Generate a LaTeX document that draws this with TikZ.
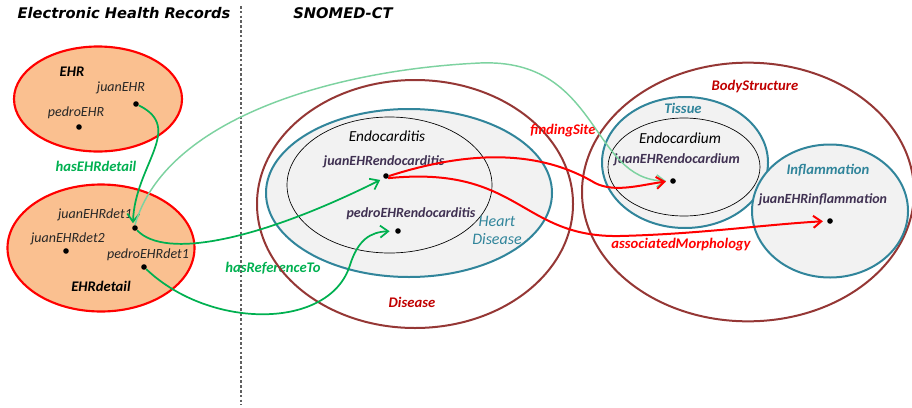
\documentclass[tikz,border=0pt]{standalone}
\usepackage{fontspec}
\setmainfont{Carlito}
\newfontfamily\titlefont{DejaVu Sans}
\usetikzlibrary{shapes.geometric,arrows.meta}

\definecolor{peach}{RGB}{250,192,144}
\definecolor{setred}{RGB}{255,0,0}
\definecolor{brownred}{RGB}{149,55,53}
\definecolor{darkred}{RGB}{192,0,0}
\definecolor{teal}{RGB}{49,133,155}
\definecolor{lightgray}{RGB}{242,242,242}
\definecolor{relgreen}{RGB}{0,176,80}
\definecolor{palegreen}{RGB}{125,210,160}
\definecolor{instpurple}{RGB}{64,49,82}

\tikzset{
  ehrset/.style={ellipse, draw=setred, fill=peach, line width=1.6pt, inner sep=0pt},
  topset/.style={ellipse, draw=brownred, line width=1.5pt, inner sep=0pt},
  subset/.style={ellipse, draw=teal, fill=lightgray, line width=1.5pt, inner sep=0pt},
  innerset/.style={ellipse, draw=black, line width=0.5pt, inner sep=0pt},
  dot/.style={circle, fill=black, inner sep=0pt, minimum size=4.2pt},
  inst/.style={font=\fontsize{10.5}{12}\selectfont\itshape, text=black!85},
  snoinst/.style={font=\fontsize{10.5}{12}\selectfont\bfseries\itshape, text=instpurple},
  setlabel/.style={font=\fontsize{11}{13}\selectfont\bfseries\itshape},
  rel/.style={font=\fontsize{11}{13}\selectfont\bfseries\itshape},
  title/.style={font=\titlefont\fontsize{11}{13}\selectfont\bfseries\itshape},
  greenarrow/.style={draw=relgreen, line width=1.3pt, -{Straight Barb[length=6pt,width=9pt]}},
  palearrow/.style={draw=palegreen, line width=1.1pt, -{Straight Barb[length=6pt,width=9pt]}},
  redarrow/.style={draw=setred, line width=1.5pt, -{Straight Barb[length=6pt,width=9pt]}},
}

\begin{document}
\begin{tikzpicture}[x=0.75pt,y=0.75pt,yscale=-1]
\useasboundingbox (0,0) rectangle (912,407);

% Titles
\node[title] (ehrtitle) at (124,13) {Electronic Health Records};
\node[title] (snotitle) at (343,13) {SNOMED-CT};
\draw[gray!75!black, line width=2.2pt, dash pattern=on 2pt off 1.6pt] (241,6) -- (241,405);

% EHR side
\node[ehrset, minimum width=126pt, minimum height=78.75pt] (EHR) at (98,99) {};
\node[ehrset, minimum width=140.25pt, minimum height=95.25pt] (EHRdetail) at (101,248) {};

\node[setlabel] (EHRlbl) at (72,72) {EHR};
\node[inst] (juanEHRlbl) at (121,88) {juanEHR};
\node[inst] (pedroEHRlbl) at (76,113) {pedroEHR};
\node[dot] (juanEHR) at (136,104) {};
\node[dot] (pedroEHR) at (79,127) {};

\node[inst] (juanEHRdet1lbl) at (95,215) {juanEHRdet1};
\node[inst] (juanEHRdet2lbl) at (68,239) {juanEHRdet2};
\node[inst] (pedroEHRdet1lbl) at (148,255) {pedroEHRdet1};
\node[setlabel] (EHRdetaillbl) at (101,286) {EHRdetail};
\node[dot] (juanEHRdet1) at (135,228) {};
\node[dot] (juanEHRdet2) at (66,251) {};
\node[dot] (pedroEHRdet1) at (144,267) {};

\node[rel, text=relgreen] (hasEHRdetail) at (96,166) {hasEHRdetail};
\node[rel, text=relgreen] (hasReferenceTo) at (273,268) {hasReferenceTo};

% Disease
\node[topset, minimum width=237pt, minimum height=186pt] (Disease) at (415,204) {};
\node[subset, minimum width=214.5pt, minimum height=126pt] (HeartDisease) at (409,193) {};
\node[innerset, minimum width=153.75pt, minimum height=102pt] (Endocarditis) at (389.5,185) {};

\node[font=\fontsize{11.5}{13}\selectfont\itshape] (Endocarditislbl) at (387,136) {Endocarditis};
\node[snoinst] (juanEHRendocarditislbl) at (384,162) {juanEHRendocarditis};
\node[snoinst] (pedroEHRendocarditislbl) at (411,214) {pedroEHRendocarditis};
\node[dot] (juanEHRendocarditis) at (386,176) {};
\node[dot] (pedroEHRendocarditis) at (398,231) {};
\node[font=\fontsize{12}{13.5}\selectfont\itshape, text=teal, align=center] (HeartDiseaselbl) at (497,230) {Heart\\Disease};
\node[setlabel, text=darkred] (Diseaselbl) at (412,302) {Disease};

% BodyStructure
\node[topset, minimum width=249pt, minimum height=194pt] (BodyStructure) at (748,192) {};
\node[subset, minimum width=124.5pt, minimum height=98.25pt] (Tissue) at (685,162.5) {};
\node[innerset, minimum width=114pt, minimum height=73.5pt] (Endocardium) at (684,167) {};
\node[subset, minimum width=117pt, minimum height=99.75pt] (Inflammation) at (830,211) {};

\node[setlabel, text=darkred] (BodyStructurelbl) at (755,87) {BodyStructure};
\node[setlabel, text=teal] (Tissuelbl) at (683,108) {Tissue};
\node[font=\fontsize{11.5}{13}\selectfont\itshape] (Endocardiumlbl) at (680,138) {Endocardium};
\node[snoinst] (juanEHRendocardiumlbl) at (677,160) {juanEHRendocardium};
\node[dot] (juanEHRendocardium) at (673,181) {};
\node[setlabel, text=teal] (Inflammationlbl) at (828,170) {Inflammation};
\node[snoinst] (juanEHRinflammationlbl) at (823,200) {juanEHRinflammation};
\node[dot] (juanEHRinflammation) at (830,221) {};

\node[rel, text=setred] (findingSite) at (563,131) {findingSite};
\node[rel, text=setred] (associatedMorphology) at (681,245) {associatedMorphology};

% Relations
\draw[greenarrow, shorten >=2pt] (juanEHR) .. controls (185,128) and (135,165) .. (juanEHRdet1.north west);
\draw[palearrow, shorten >=3pt] (juanEHRdet1.north) .. controls (165,120) and (330,70) .. (480,63) .. controls (600,58) and (590,180) .. (juanEHRendocardium.west);
\draw[greenarrow, shorten >=3pt] (juanEHRdet1) .. controls (165,260) and (260,240) .. (juanEHRendocarditis.south west);
\draw[greenarrow, shorten >=4pt] (pedroEHRdet1) .. controls (210,330) and (330,330) .. (350,265) .. controls (358,240) and (370,232) .. (pedroEHRendocarditis.west);
\draw[redarrow, shorten >=3pt] (juanEHRendocarditis.east) .. controls (470,150) and (540,150) .. (595,183) .. controls (615,193) and (640,185) .. (juanEHRendocardium.west);
\draw[redarrow, shorten >=3pt] (juanEHRendocarditis.south east) .. controls (520,165) and (520,238) .. (620,236) .. controls (700,234) and (760,225) .. (juanEHRinflammation.west);

\end{tikzpicture}
\end{document}
